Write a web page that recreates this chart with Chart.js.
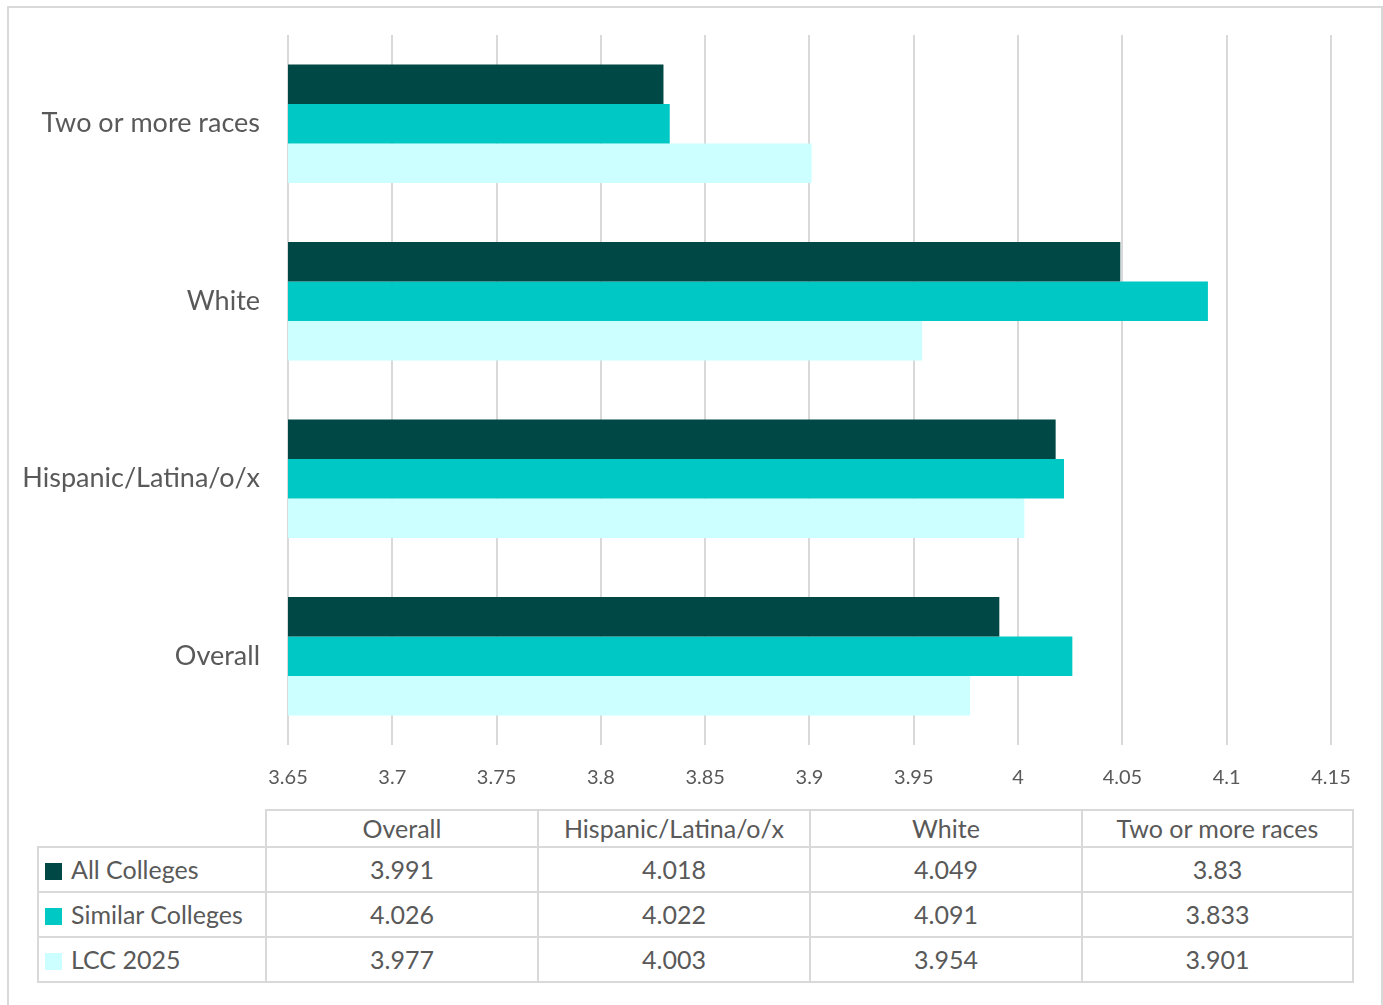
<!DOCTYPE html>
<html>
<head>
<meta charset="utf-8">
<script src="https://cdn.jsdelivr.net/npm/chart.js@4/dist/chart.umd.min.js"></script>
<style>
  html, body { margin: 0; padding: 0; background: #fff; }
  #wrap { position: relative; width: 1383px; height: 1005px; overflow: hidden; font-family: Lato, "Open Sans", sans-serif; color: #595959; }
  #frame { position: absolute; left: 7px; top: 6px; width: 1376px; height: 1010px; border: 2px solid #d9d9d9; box-sizing: border-box; }
  #chartBox { position: absolute; left: 0; top: 0; width: 1383px; height: 800px; }
  table { position: absolute; left: 37px; top: 809px; border-collapse: collapse; table-layout: fixed; font-size: 25px; }
  td { border: 2px solid #d9d9d9; height: 45px; padding: 0; text-align: center; line-height: 1; box-sizing: border-box; }
  td.head { height: 37px; }
  td.blank { border: none; border-right: 2px solid #d9d9d9; border-bottom: 2px solid #d9d9d9; }
  td.leg { text-align: left; padding-left: 6px; white-space: nowrap; }
  .sw { display: inline-block; width: 17px; height: 17px; margin-right: 9px; vertical-align: -1px; }
</style>
</head>
<body>
<div id="wrap">
  <div id="frame"></div>
  <div id="chartBox"><canvas id="c"></canvas></div>
  <table id="tbl">
    <colgroup><col style="width:228px"><col style="width:272px"><col style="width:272px"><col style="width:272px"><col style="width:271px"></colgroup>
  </table>
</div>
<script>
// Categories in table order (bottom to top on the chart)
const categories = ['Overall', 'Hispanic/Latina/o/x', 'White', 'Two or more races'];
const seriesNames = ['All Colleges', 'Similar Colleges', 'LCC 2025'];
const allColleges = [3.991, 4.018, 4.049, 3.83];
const similarColleges = [4.026, 4.022, 4.091, 3.833];
const lcc2025 = [3.977, 4.003, 3.954, 3.901];
const seriesColors = ['#004845', '#00C8C4', '#CCFFFF'];
const xTicks = [3.65, 3.7, 3.75, 3.8, 3.85, 3.9, 3.95, 4, 4.05, 4.1, 4.15];

const seriesValues = [allColleges, similarColleges, lcc2025];

// The chart lists categories top to bottom, so reverse them for the y axis
const chartLabels = categories.slice().reverse();
const datasets = seriesNames.map((name, i) => ({
  label: name,
  data: seriesValues[i].slice().reverse(),
  backgroundColor: seriesColors[i],
  borderWidth: 0,
  categoryPercentage: 0.667,
  barPercentage: 1.0
}));

new Chart(document.getElementById('c'), {
  type: 'bar',
  data: { labels: chartLabels, datasets },
  options: {
    indexAxis: 'y',
    responsive: true,
    maintainAspectRatio: false,
    animation: false,
    layout: { padding: { top: 35, right: 52, left: 0, bottom: 0 } },
    plugins: { legend: { display: false }, tooltip: { enabled: false } },
    scales: {
      x: {
        min: 3.65,
        max: 4.15,
        afterBuildTicks: (axis) => { axis.ticks = xTicks.map(v => ({ value: v })); },
        afterFit: (axis) => { axis.height = 55; },
        grid: { color: '#d9d9d9', lineWidth: 2, drawTicks: false },
        border: { display: false },
        ticks: {
          padding: 21,
          color: '#595959',
          font: { family: 'Lato, "Open Sans", sans-serif', size: 20 },
          callback: (v) => String(Number(v.toFixed(2)))
        }
      },
      y: {
        afterFit: (axis) => { axis.width = 288; axis.paddingTop = 0; axis.paddingBottom = 0; },
        grid: { display: false, drawTicks: false },
        border: { display: false },
        ticks: {
          padding: 28,
          color: '#595959',
          font: { family: 'Lato, "Open Sans", sans-serif', size: 27 }
        }
      }
    }
  }
});

// Data table under the chart
const tbl = document.getElementById('tbl');
let html = '<tr><td class="blank head"></td>' +
  categories.map(c => '<td class="head">' + c + '</td>').join('') + '</tr>';
seriesNames.forEach((name, i) => {
  html += '<tr><td class="leg"><span class="sw" style="background:' + seriesColors[i] + '"></span>' + name + '</td>' +
    seriesValues[i].map(v => '<td>' + v + '</td>').join('') + '</tr>';
});
tbl.insertAdjacentHTML('beforeend', html);
</script>
</body>
</html>
